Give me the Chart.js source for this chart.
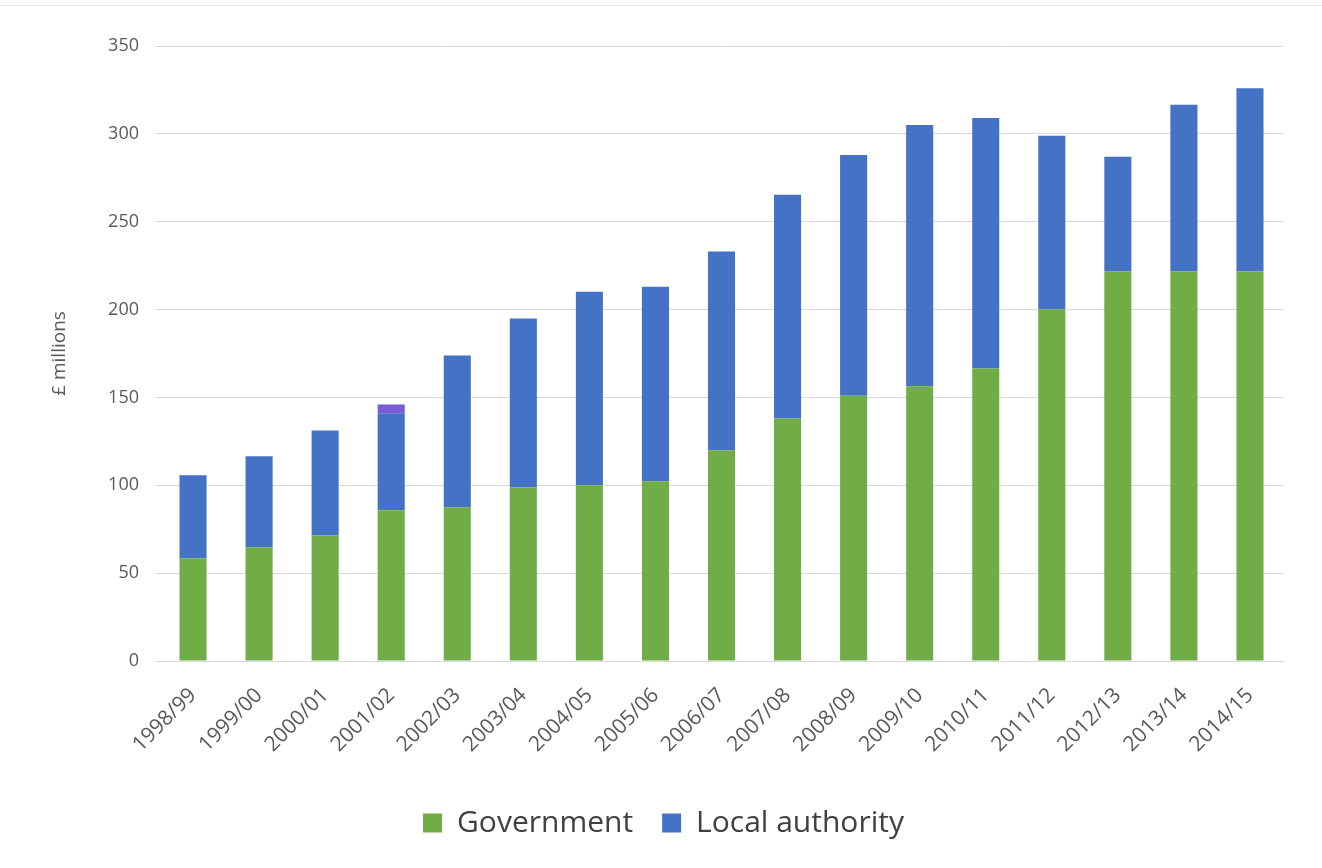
<!DOCTYPE html>
<html>
<head>
<meta charset="utf-8">
<script src="https://cdn.jsdelivr.net/npm/chart.js@4/dist/chart.umd.min.js"></script>
<style>
html,body{margin:0;padding:0;background:#fff;}
#wrap{position:absolute;left:0;top:0;width:1322px;height:868px;}
#topline{position:absolute;left:0;top:5px;width:1322px;height:1px;background:#e6e6e6;}
</style>
</head>
<body>
<div id="wrap"><div id="topline"></div><canvas id="c" width="1322" height="868"></canvas></div>
<script>
const categories = ["1998/99","1999/00","2000/01","2001/02","2002/03","2003/04","2004/05","2005/06","2006/07","2007/08","2008/09","2009/10","2010/11","2011/12","2012/13","2013/14","2014/15"];
const government = [58.5,64.8,71.6,85.8,87.5,98.9,100,102.3,119.9,138,151,156.3,166.5,200,221.6,221.6,221.6];
const localAuthority = [47.2,51.7,59.6,55.2,86.4,96,110.2,110.7,113.1,127.3,137,148.7,142.5,98.9,65.4,94.9,104.4];
const other = [0,0,0,5,0,0,0,0,0,0,0,0,0,0,0,0,0];
const yTicks = [0,50,100,150,200,250,300,350];

const FONT = "'Open Sans', 'Noto Sans', sans-serif";
const GREY = "#595959";

new Chart(document.getElementById('c'), {
  type: 'bar',
  data: {
    labels: categories,
    datasets: [
      {label: 'Government', data: government, backgroundColor: '#70AD47', borderWidth: 0},
      {label: 'Local authority', data: localAuthority, backgroundColor: '#4472C4', borderWidth: 0},
      {label: 'Other', data: other, backgroundColor: '#7B5BD6', borderWidth: 0}
    ]
  },
  options: {
    responsive: false,
    animation: false,
    layout: {padding: {left: 44, right: 39, top: 46, bottom: 20}},
    datasets: {bar: {categoryPercentage: 1.0, barPercentage: 0.41}},
    scales: {
      x: {
        stacked: true,
        grid: {display: false},
        border: {display: true, color: '#d9d9d9'},
        ticks: {color: GREY, font: {family: FONT, size: 21}, minRotation: 45, maxRotation: 45, padding: 14},
        afterFit: (axis) => { axis.height = 118; }
      },
      y: {
        stacked: true,
        min: 0, max: 350,
        afterBuildTicks: (axis) => { axis.ticks = yTicks.map(v => ({value: v})); },
        grid: {color: '#d9d9d9', lineWidth: 1, drawTicks: true, tickLength: 5},
        border: {display: false},
        ticks: {color: GREY, font: {family: FONT, size: 18}, padding: 16},
        title: {display: true, text: '£ millions', color: GREY, font: {family: FONT, size: 19}, padding: {bottom: 4}},
        afterFit: (axis) => { axis.width = 116; }
      }
    },
    plugins: {
      legend: {
        position: 'bottom',
        labels: {
          color: '#404040',
          font: {family: FONT, size: 30},
          boxWidth: 19, boxHeight: 19, padding: 29,
          filter: (item) => item.text !== 'Other'
        }
      },
      tooltip: {enabled: false}
    }
  }
});
</script>
</body>
</html>
